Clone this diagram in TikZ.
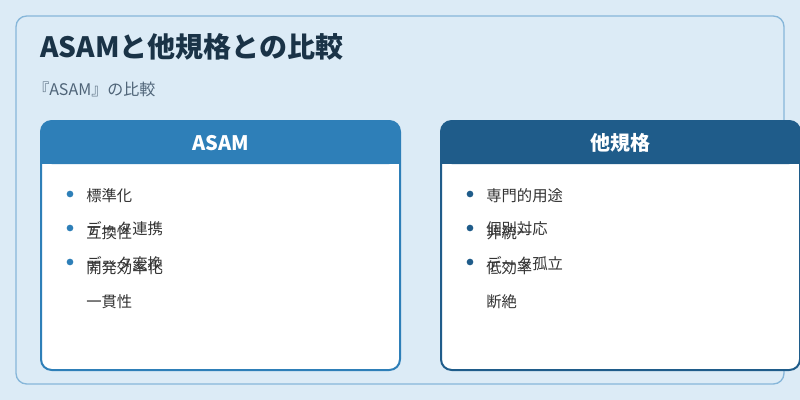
\documentclass[tikz,border=0pt]{standalone}
\usepackage{fontspec}
\setmainfont{Noto Sans CJK JP}
\definecolor{bg}{HTML}{DCEBF6}
\definecolor{frame}{HTML}{86B6D9}
\definecolor{hA}{HTML}{2E7FB8}
\definecolor{hB}{HTML}{1F5C8A}
\definecolor{tx}{HTML}{333333}
\definecolor{ttl}{HTML}{1A3347}
\definecolor{subc}{HTML}{4F6478}
\begin{document}
\begin{tikzpicture}[x=0.75pt,y=-0.75pt,
  item/.style={anchor=west,inner sep=0pt,font=\fontsize{11.5}{13}\selectfont,text=tx},
  dotA/.style={circle,fill=hA,inner sep=0pt,minimum size=5pt},
  dotB/.style={circle,fill=hB,inner sep=0pt,minimum size=5pt}]
\useasboundingbox (0,0) rectangle (800,400);
\fill[bg] (0,0) rectangle (800,400);
\draw[frame,line width=1pt,rounded corners=8pt,fill=bg] (16,16) rectangle (784,384);
\node[anchor=west,inner sep=0pt,font=\fontsize{21}{24}\selectfont\bfseries,text=ttl] (title) at (40,47) {ASAMと他規格との比較};
\node[anchor=west,inner sep=0pt,font=\fontsize{12}{14}\selectfont,text=subc] (sub) at (33,89) {『ASAM』の比較};
% left card
\draw[hA,line width=1.5pt,fill=white,rounded corners=8pt] (41,121) rectangle (400,370);
\fill[hA,rounded corners=8pt] (41,121) rectangle (400,164);
\fill[hA] (41,150) rectangle (400,164);
\node[font=\fontsize{15}{18}\selectfont\bfseries,text=white] (hAt) at (220.5,143) {ASAM};
% right card
\draw[hB,line width=1.5pt,fill=white,rounded corners=8pt] (441,121) rectangle (800,370);
\fill[hB,rounded corners=8pt] (441,121) rectangle (800,164);
\fill[hB] (441,150) rectangle (800,164);
\node[font=\fontsize{15}{18}\selectfont\bfseries,text=white] (hBt) at (620.5,143) {他規格};
% left items
\node[dotA] (a1) at (70,194) {}; \node[item] (ta1) at (86,196) {標準化};
\node[dotA] (a2) at (70,228) {}; \node[item] (ta2) at (86,233) {互換性}; \node[item] (ta2b) at (86,229) {データ連携};
\node[dotA] (a3) at (70,262) {}; \node[item] (ta3) at (86,268) {開発効率化}; \node[item] (ta3b) at (86,264) {データ変換};
\node[item] (ta4) at (86,302) {一貫性};
% right items
\node[dotB] (b1) at (470,194) {}; \node[item] (tb1) at (486,196) {専門的用途};
\node[dotB] (b2) at (470,228) {}; \node[item] (tb2) at (486,233) {非統一}; \node[item] (tb2b) at (486,229) {個別対応};
\node[dotB] (b3) at (470,262) {}; \node[item] (tb3) at (486,268) {低効率}; \node[item] (tb3b) at (486,264) {データ孤立};
\node[item] (tb4) at (486,302) {断絶};
\end{tikzpicture}
\end{document}
